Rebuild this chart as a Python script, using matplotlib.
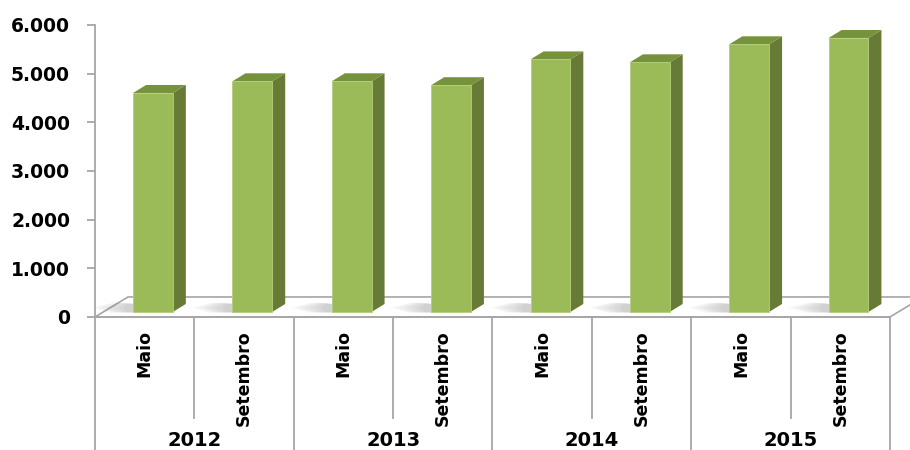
import matplotlib
matplotlib.use("Agg")
import matplotlib.pyplot as plt
from matplotlib.patches import Polygon
from matplotlib.ticker import FuncFormatter

years = ["2012", "2013", "2014", "2015"]
months = ["Maio", "Setembro"]
values = [4500, 4740, 4740, 4660, 5190, 5130, 5500, 5630]

front_color = "#9BBB59"
side_color = "#677B36"
top_color = "#76933C"
line_color = "#A6A6A6"

fig = plt.figure(figsize=(9.1, 4.5), dpi=100)
ax = fig.add_axes([0.1044, 0.2956, 0.8736, 0.6489])
ax.set_xlim(0, 8)
ax.set_ylim(0, 6000)

# depth of the floor and of each column (pseudo 3D offsets in data units)
floor_dx, floor_dy = 0.332, 411
base_dx, base_dy = 0.083, 103
col_dx, col_dy = 0.131, 164
w = 0.40

floor = Polygon([(0, 0), (8, 0), (8 + floor_dx, floor_dy), (floor_dx, floor_dy)],
                closed=True, facecolor="white", edgecolor=line_color, lw=1.2,
                clip_on=False, zorder=1)
ax.add_patch(floor)

n = len(values)
for i, v in enumerate(values):
    xl = i + 0.5 - w / 2 + base_dx
    xr = xl + w
    b = base_dy
    # soft shadow on the floor, darker close to the column
    for k in range(6):
        ext = 0.40 - k * 0.06
        sh = Polygon([(xl + 0.02, b - 10), (xl + 0.02, b + 160),
                      (xl - ext * 0.5, b + 190), (xl - ext, b + 90),
                      (xl - ext * 0.6, b - 10)],
                     closed=True, facecolor="#6F6F6F", edgecolor="none",
                     alpha=0.06, zorder=2, clip_on=False)
        ax.add_patch(sh)
    ax.bar(xl + w / 2, v, bottom=b, width=w, color=front_color,
           edgecolor="#B3CD7A", linewidth=0.6, zorder=4)
    side = Polygon([(xr, b), (xr + col_dx, b + col_dy), (xr + col_dx, b + v + col_dy),
                    (xr, b + v)], closed=True, facecolor=side_color,
                   edgecolor="none", zorder=3, clip_on=False)
    top = Polygon([(xl, b + v), (xl + col_dx, b + v + col_dy),
                   (xr + col_dx, b + v + col_dy), (xr, b + v)], closed=True,
                  facecolor=top_color, edgecolor="none", zorder=3, clip_on=False)
    ax.add_patch(side)
    ax.add_patch(top)

# value axis
for s in ["top", "right", "bottom"]:
    ax.spines[s].set_visible(False)
ax.spines["left"].set_color(line_color)
ax.spines["left"].set_linewidth(1.3)
ax.set_yticks(range(0, 6001, 1000))
ax.yaxis.set_major_formatter(FuncFormatter(lambda v, p: f"{int(v):,}".replace(",", ".")))
ax.tick_params(axis="y", length=6, width=1.3, color=line_color, pad=12)
for lab in ax.get_yticklabels():
    lab.set_fontweight("bold")
    lab.set_fontsize(13.5)
    lab.set_family("DejaVu Sans")
ax.set_xticks([])

# category axis with grouped labels
ax.plot([0, 8], [0, 0], color=line_color, lw=1.3, clip_on=False, zorder=5)
for k in range(n + 1):
    y_end = -2750 if k % 2 == 0 else -2074
    ax.plot([k, k], [0, y_end], color=line_color, lw=1.3, clip_on=False, zorder=5)

for i in range(n):
    ax.text(i + 0.5, -267, months[i % 2], rotation=90, ha="center", va="top",
            fontsize=12.5, fontweight="bold", family="DejaVu Sans")
for j, yr in enumerate(years):
    ax.text(2 * j + 1, -2546, yr, ha="center", va="center",
            fontsize=14, fontweight="bold", family="DejaVu Sans")

fig.savefig("out.png", dpi=100, facecolor="white")
